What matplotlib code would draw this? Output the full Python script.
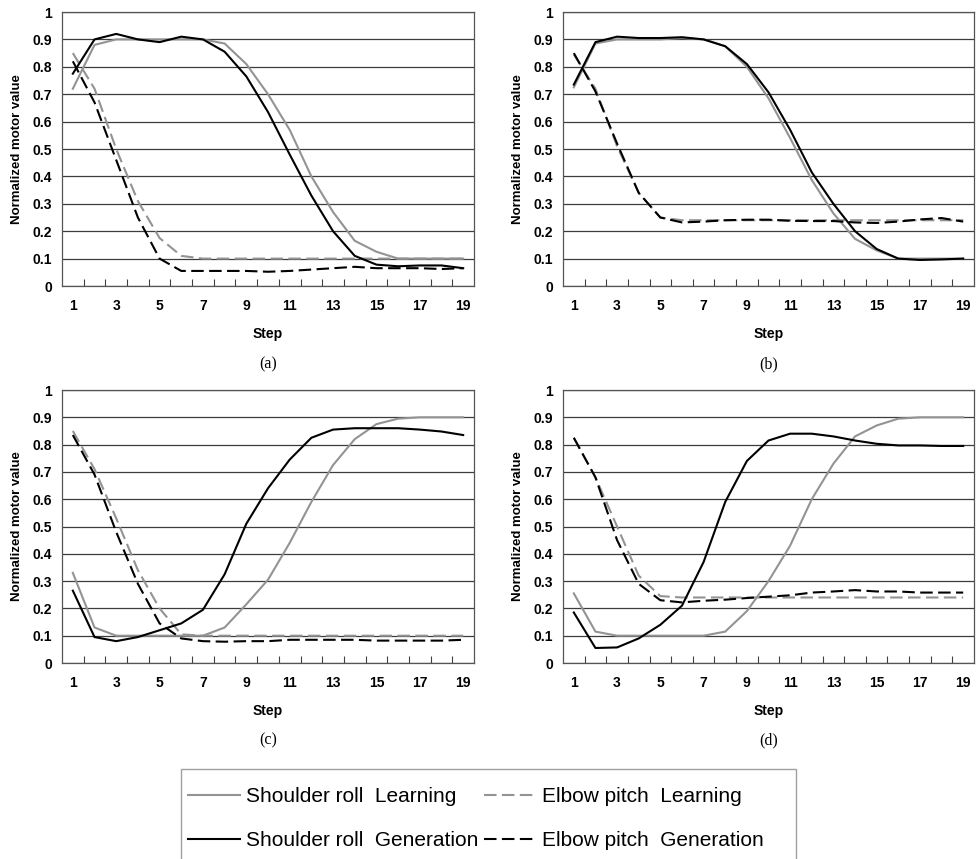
import numpy as np
import matplotlib
matplotlib.use('Agg')
import matplotlib.pyplot as plt
from matplotlib.patches import Rectangle
from matplotlib.ticker import FixedLocator

plt.rcParams['font.family'] = ['Liberation Sans', 'DejaVu Sans']

steps = np.arange(1, 20)

# ── (a) ──
a_sr_learn = [0.72, 0.88, 0.90, 0.90, 0.90, 0.90, 0.90, 0.885, 0.81, 0.70, 0.57, 0.40, 0.27, 0.165, 0.125, 0.10, 0.10, 0.10, 0.10]
a_sr_gen   = [0.775, 0.90, 0.92, 0.90, 0.89, 0.91, 0.90, 0.855, 0.765, 0.635, 0.48, 0.33, 0.20, 0.11, 0.078, 0.072, 0.075, 0.075, 0.065]
a_ep_learn = [0.85, 0.72, 0.50, 0.31, 0.175, 0.11, 0.10, 0.10, 0.10, 0.10, 0.10, 0.10, 0.10, 0.10, 0.10, 0.10, 0.10, 0.10, 0.10]
a_ep_gen   = [0.82, 0.67, 0.46, 0.25, 0.10, 0.055, 0.055, 0.055, 0.055, 0.052, 0.055, 0.06, 0.065, 0.07, 0.065, 0.065, 0.065, 0.062, 0.065]

# ── (b) ──
b_sr_learn = [0.725, 0.885, 0.90, 0.90, 0.90, 0.905, 0.90, 0.875, 0.80, 0.685, 0.54, 0.387, 0.265, 0.172, 0.13, 0.10, 0.10, 0.10, 0.10]
b_sr_gen   = [0.735, 0.89, 0.91, 0.905, 0.905, 0.908, 0.90, 0.875, 0.81, 0.707, 0.57, 0.415, 0.30, 0.20, 0.135, 0.10, 0.095, 0.097, 0.10]
b_ep_learn = [0.845, 0.72, 0.51, 0.34, 0.25, 0.24, 0.24, 0.24, 0.24, 0.24, 0.24, 0.24, 0.24, 0.24, 0.24, 0.24, 0.24, 0.24, 0.24]
b_ep_gen   = [0.85, 0.71, 0.52, 0.34, 0.25, 0.232, 0.235, 0.24, 0.242, 0.242, 0.238, 0.237, 0.237, 0.232, 0.23, 0.235, 0.243, 0.248, 0.235]

# ── (c) ──
c_sr_learn = [0.33, 0.13, 0.10, 0.10, 0.10, 0.10, 0.10, 0.13, 0.215, 0.305, 0.44, 0.59, 0.725, 0.82, 0.875, 0.895, 0.90, 0.90, 0.90]
c_sr_gen   = [0.265, 0.095, 0.08, 0.095, 0.12, 0.145, 0.195, 0.325, 0.51, 0.64, 0.745, 0.825, 0.855, 0.86, 0.86, 0.86, 0.855, 0.848, 0.835]
c_ep_learn = [0.85, 0.71, 0.53, 0.34, 0.20, 0.105, 0.10, 0.10, 0.10, 0.10, 0.10, 0.10, 0.10, 0.10, 0.10, 0.10, 0.10, 0.10, 0.10]
c_ep_gen   = [0.835, 0.69, 0.48, 0.29, 0.145, 0.09, 0.08, 0.078, 0.08, 0.08, 0.085, 0.085, 0.085, 0.085, 0.082, 0.082, 0.082, 0.082, 0.085]

# ── (d) ──
d_sr_learn = [0.255, 0.115, 0.10, 0.10, 0.10, 0.10, 0.10, 0.115, 0.19, 0.30, 0.43, 0.60, 0.73, 0.83, 0.87, 0.895, 0.90, 0.90, 0.90]
d_sr_gen   = [0.185, 0.055, 0.057, 0.09, 0.14, 0.21, 0.37, 0.59, 0.74, 0.815, 0.84, 0.84, 0.83, 0.815, 0.803, 0.797, 0.797, 0.795, 0.795]
d_ep_learn = [0.825, 0.68, 0.50, 0.32, 0.245, 0.24, 0.24, 0.24, 0.24, 0.24, 0.24, 0.24, 0.24, 0.24, 0.24, 0.24, 0.24, 0.24, 0.24]
d_ep_gen   = [0.825, 0.68, 0.45, 0.29, 0.23, 0.222, 0.228, 0.232, 0.238, 0.243, 0.248, 0.258, 0.262, 0.267, 0.262, 0.262, 0.258, 0.258, 0.258]

y_ticks = np.round(np.arange(0, 1.01, 0.1), 1)
y_labels = ['0', '0.1', '0.2', '0.3', '0.4', '0.5', '0.6', '0.7', '0.8', '0.9', '1']

panels = [
    ('(a)', a_sr_learn, a_sr_gen, a_ep_learn, a_ep_gen),
    ('(b)', b_sr_learn, b_sr_gen, b_ep_learn, b_ep_gen),
    ('(c)', c_sr_learn, c_sr_gen, c_ep_learn, c_ep_gen),
    ('(d)', d_sr_learn, d_sr_gen, d_ep_learn, d_ep_gen),
]

positions = [
    [0.06346, 0.66705, 0.42170, 0.31898],
    [0.57625, 0.66705, 0.42068, 0.31898],
    [0.06346, 0.22817, 0.42170, 0.31781],
    [0.57625, 0.22817, 0.42068, 0.31781],
]

GRAY = '#939393'
DASH = (0, (6, 2.6))
LW = 1.5

fig = plt.figure(figsize=(9.77, 8.59), dpi=100, facecolor='white')

handles = None
for pos, (cap, sr_l, sr_g, ep_l, ep_g) in zip(positions, panels):
    ax = fig.add_axes(pos)
    h1, = ax.plot(steps, sr_l, color=GRAY, lw=LW, label='Shoulder roll  Learning')
    h3, = ax.plot(steps, ep_l, color=GRAY, lw=LW, ls=DASH, label='Elbow pitch  Learning')
    h2, = ax.plot(steps, sr_g, color='black', lw=LW, label='Shoulder roll  Generation')
    h4, = ax.plot(steps, ep_g, color='black', lw=LW, ls=DASH, label='Elbow pitch  Generation')
    handles = [h1, h2, h3, h4]

    ax.set_xlim(0.5, 19.5)
    ax.set_ylim(0, 1)
    ax.set_yticks(y_ticks)
    ax.set_yticklabels(y_labels)
    ax.set_xticks(np.arange(1, 20, 2))
    ax.xaxis.set_minor_locator(FixedLocator(np.arange(1.5, 19, 1)))
    ax.tick_params(axis='x', which='major', length=0, pad=9, labelsize=10)
    ax.tick_params(axis='x', which='minor', direction='in', length=5, width=0.8, color='#404040')
    ax.tick_params(axis='y', length=0, pad=7, labelsize=10)
    for lab in ax.get_xticklabels() + ax.get_yticklabels():
        lab.set_fontweight('bold')
    ax.grid(axis='y', color='#3c3c3c', lw=0.9)
    ax.set_axisbelow(True)
    for sp in ax.spines.values():
        sp.set_color('#555555')
        sp.set_linewidth(0.9)

    ax.set_ylabel('Normalized motor value', fontsize=9.5, fontweight='bold')
    ax.yaxis.set_label_coords(-0.095, 0.5)
    ax.text(0.5, -0.175, 'Step', transform=ax.transAxes, ha='center', va='center',
            fontsize=10, fontweight='bold')
    ax.text(0.5, -0.285, cap, transform=ax.transAxes, ha='center', va='center',
            fontsize=11.5, family=['Liberation Serif', 'DejaVu Serif'])

# ── legend box (bottom cut off by the figure edge) ──
fig.patches.append(Rectangle((181 / 977, -0.05), (796 - 181) / 977, 0.05 + (859 - 769) / 859,
                             transform=fig.transFigure, fill=False, edgecolor='#a0a0a0',
                             lw=1.0, clip_on=False))
fig.legend(handles, [h.get_label() for h in handles], ncol=2, frameon=False,
           loc='upper left', bbox_to_anchor=(188 / 977, 1 - 787 / 859),
           fontsize=15, handlelength=2.5, handletextpad=0.3, columnspacing=0.25,
           labelspacing=1.2, borderaxespad=0, borderpad=0)

fig.savefig('out.png', dpi=100)
